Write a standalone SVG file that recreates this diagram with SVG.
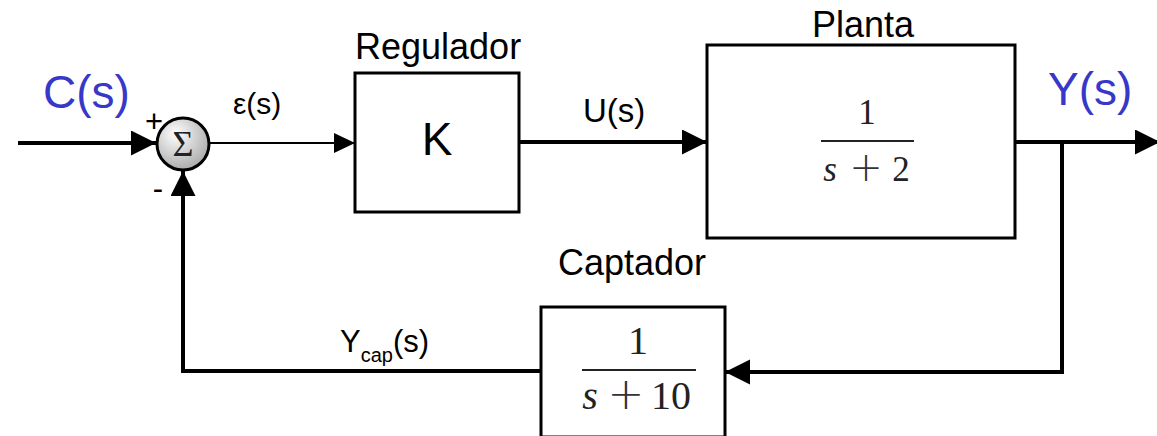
<svg xmlns="http://www.w3.org/2000/svg" width="1157" height="436" viewBox="0 0 1157 436">
  <style>
    .lbl { font-family: "Liberation Sans", Arial, sans-serif; fill: #000; }
    .blue { font-family: "Liberation Sans", Arial, sans-serif; fill: #3737c8; font-size: 46px; }
    .math { font-family: "Liberation Serif", "Times New Roman", serif; fill: #222; }
    .plus { font-family: "DejaVu Sans", sans-serif; font-weight: 200; fill: #333; }
    .box { fill: #fff; stroke: #000; stroke-width: 3; }
    .thick { fill: none; stroke: #000; stroke-width: 4; }
    .thin { fill: none; stroke: #000; stroke-width: 2; }
    .bar { stroke: #222; stroke-width: 2; }
  </style>
  <defs>
    <marker id="ah" markerUnits="userSpaceOnUse" markerWidth="26" markerHeight="26" refX="25" refY="12.5" orient="auto">
      <path d="M0,0 L25,12.5 L0,25 z" fill="#000"/>
    </marker>
    <marker id="ahs" markerUnits="userSpaceOnUse" markerWidth="22" markerHeight="22" refX="21" refY="10" orient="auto">
      <path d="M0,0 L21,10 L0,20 z" fill="#000"/>
    </marker>
    <radialGradient id="sumg" cx="0.4" cy="0.35" r="0.7" fx="0.35" fy="0.3">
      <stop offset="0" stop-color="#ffffff"/>
      <stop offset="1" stop-color="#a8a8a8"/>
    </radialGradient>
  </defs>
  <rect width="1157" height="436" fill="#fff"/>

  <g id="connectors">
    <path class="thick" d="M18,143 L156,143" marker-end="url(#ah)"/>
    <path class="thin" d="M210,143 L355,143" marker-end="url(#ahs)"/>
    <path class="thick" d="M519,142 L707,142" marker-end="url(#ah)"/>
    <path class="thick" d="M1015,142 L1160,142" marker-end="url(#ah)"/>
    <path class="thick" d="M1062,142 V372 H725" marker-end="url(#ah)"/>
    <path class="thick" d="M541,371 H183 V171" marker-end="url(#ah)"/>
  </g>

  <g id="labels">
    <text class="blue" x="43" y="108">C(s)</text>
    <text class="blue" x="1048" y="105">Y(s)</text>
    <text class="lbl" x="233" y="114" font-size="30">ε(s)</text>
    <text class="lbl" x="583" y="122" font-size="33">U(s)</text>
    <text class="lbl" x="340" y="352" font-size="31">Y<tspan font-size="20" dy="10">cap</tspan><tspan dy="-10">(s)</tspan></text>
  </g>

  <g id="sum">
    <circle cx="183" cy="144" r="26" fill="url(#sumg)" stroke="#000" stroke-width="3"/>
    <text class="math" x="183" y="156" font-size="36" text-anchor="middle" fill="#000">Σ</text>
    <text class="lbl" x="154" y="132" font-size="31" text-anchor="middle">+</text>
    <text class="lbl" x="158" y="199" font-size="31" text-anchor="middle">-</text>
  </g>

  <g id="regulador">
    <rect class="box" x="355" y="73" width="164" height="139"/>
    <text class="lbl" x="355" y="59" font-size="36">Regulador</text>
    <text class="lbl" x="437" y="155" font-size="46" text-anchor="middle">K</text>
  </g>

  <g id="planta">
    <rect class="box" x="707" y="45" width="308" height="193"/>
    <text class="lbl" x="812" y="37" font-size="36">Planta</text>
    <text class="math" x="867" y="124" font-size="35" text-anchor="middle">1</text>
    <line class="bar" x1="821" y1="141" x2="914" y2="141"/>
    <text class="math" y="181" font-size="35" text-anchor="middle"><tspan x="830" font-style="italic">s</tspan><tspan class="plus" x="866" font-size="40">+</tspan><tspan x="901">2</tspan></text>
  </g>

  <g id="captador">
    <rect class="box" x="541" y="307" width="184" height="130"/>
    <text class="lbl" x="558" y="275" font-size="36">Captador</text>
    <text class="math" x="638" y="354" font-size="40" text-anchor="middle">1</text>
    <line class="bar" x1="582" y1="370" x2="696" y2="370"/>
    <text class="math" y="409" font-size="40" text-anchor="middle"><tspan x="590" font-style="italic">s</tspan><tspan class="plus" x="626" font-size="44">+</tspan><tspan x="671">10</tspan></text>
  </g>
</svg>
